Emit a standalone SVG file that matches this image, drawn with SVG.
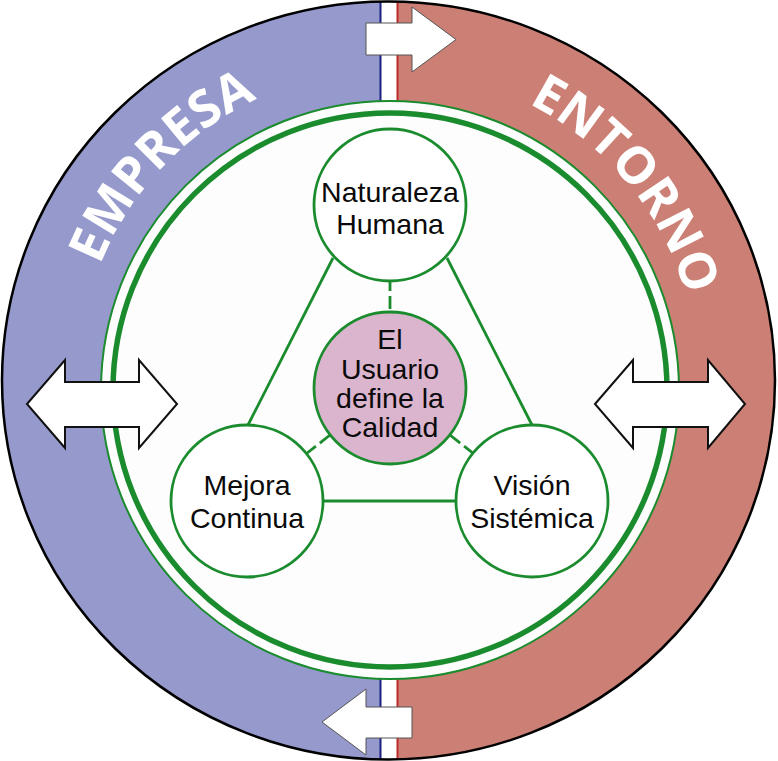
<svg xmlns="http://www.w3.org/2000/svg" width="778" height="761" viewBox="0 0 778 761">
  <style>
    .lbl { font-family: "Liberation Sans", Arial, sans-serif; font-size: 28.5px; fill: #0a0a0a; text-anchor: middle; }
    .band { font-family: "Open Sans", "DejaVu Sans", sans-serif; font-weight: bold; font-size: 51px; fill: #ffffff; text-anchor: middle; }
    .node { fill: #ffffff; stroke: #1a8c2e; stroke-width: 2.8; }
    .conn { stroke: #1a8c2e; stroke-width: 2.8; fill: none; }
    .dash { stroke: #1a8c2e; stroke-width: 2.8; fill: none; stroke-dasharray: 13 5; }
    .arr { fill: #ffffff; stroke: #111; stroke-width: 2; stroke-linejoin: miter; }
    .arr2 { fill: #ffffff; stroke: #555; stroke-width: 1; }
  </style>
  <defs>
    <clipPath id="outerClip">
      <ellipse cx="388.5" cy="380.5" rx="386.5" ry="379"/>
    </clipPath>
    <path id="arcL" d="M 78,380 A 310 310 0 0 1 388,70"/>
    <path id="arcR" d="M 388,70 A 310 310 0 0 1 698,380"/>
  </defs>
  <rect width="778" height="761" fill="#ffffff"/>
  <g id="background">
    <g clip-path="url(#outerClip)">
      <rect x="0" y="0" width="381" height="761" fill="#9599cc"/>
      <rect x="397" y="0" width="381" height="761" fill="#cc7f74"/>
      <rect x="381" y="0" width="16" height="761" fill="#ffffff"/>
      <line x1="380.5" y1="0" x2="380.5" y2="761" stroke="#1c2080" stroke-width="2"/>
      <line x1="397.5" y1="0" x2="397.5" y2="761" stroke="#c02a2a" stroke-width="2"/>
    </g>
    <ellipse cx="388.5" cy="380.5" rx="386.5" ry="379" fill="none" stroke="#000" stroke-width="2.5"/>
    <circle cx="390" cy="390" r="289" fill="#fdfdfd" stroke="#1a8c2e" stroke-width="2"/>
    <circle cx="390" cy="390" r="277" fill="none" stroke="#1a8c2e" stroke-width="5.5"/>
  </g>
  <g id="band-labels">
    <text class="band"><textPath href="#arcL" startOffset="48.2%">EMPRESA</textPath></text>
    <text class="band"><textPath href="#arcR" startOffset="56.2%">ENTORNO</textPath></text>
  </g>
  <g id="connectors">
    <line class="conn" x1="333" y1="258" x2="248" y2="425"/>
    <line class="conn" x1="447" y1="258" x2="532" y2="425"/>
    <line class="conn" x1="323" y1="501" x2="456" y2="501"/>
    <line class="dash" x1="390" y1="278" x2="390" y2="313"/>
    <line class="dash" x1="330" y1="435" x2="306" y2="454"/>
    <line class="dash" x1="450" y1="435" x2="474" y2="454"/>
  </g>
  <g id="node-naturaleza">
    <circle class="node" cx="390" cy="205" r="76"/>
    <text class="lbl" x="390" y="202">Naturaleza</text>
    <text class="lbl" x="390" y="234">Humana</text>
  </g>
  <g id="node-mejora">
    <circle class="node" cx="247" cy="501" r="76"/>
    <text class="lbl" x="247" y="495">Mejora</text>
    <text class="lbl" x="247" y="528">Continua</text>
  </g>
  <g id="node-vision">
    <circle class="node" cx="532" cy="501" r="76"/>
    <text class="lbl" x="532" y="495">Visión</text>
    <text class="lbl" x="532" y="528">Sistémica</text>
  </g>
  <g id="node-usuario">
    <circle class="node" cx="390" cy="388" r="76" style="fill:#dbb4cd"/>
    <text class="lbl" x="390" y="349">El</text>
    <text class="lbl" x="390" y="379">Usuario</text>
    <text class="lbl" x="390" y="408">define la</text>
    <text class="lbl" x="390" y="437">Calidad</text>
  </g>
  <g id="arrow-top">
    <polygon class="arr2" points="366,23 412,23 412,7 456,39.5 412,72 412,55 366,55"/>
  </g>
  <g id="arrow-bottom">
    <polygon class="arr2" points="412,707 366,707 366,689 322,722 366,755 366,738 412,738"/>
  </g>
  <g id="arrow-left">
    <polygon class="arr" points="27,404 65,360 65,382 139,382 139,360 177,404 139,448 139,427 65,427 65,448"/>
  </g>
  <g id="arrow-right">
    <polygon class="arr" points="595,404 633,360 633,382 708,382 708,360 745,404 708,448 708,427 633,427 633,448"/>
  </g>
</svg>
